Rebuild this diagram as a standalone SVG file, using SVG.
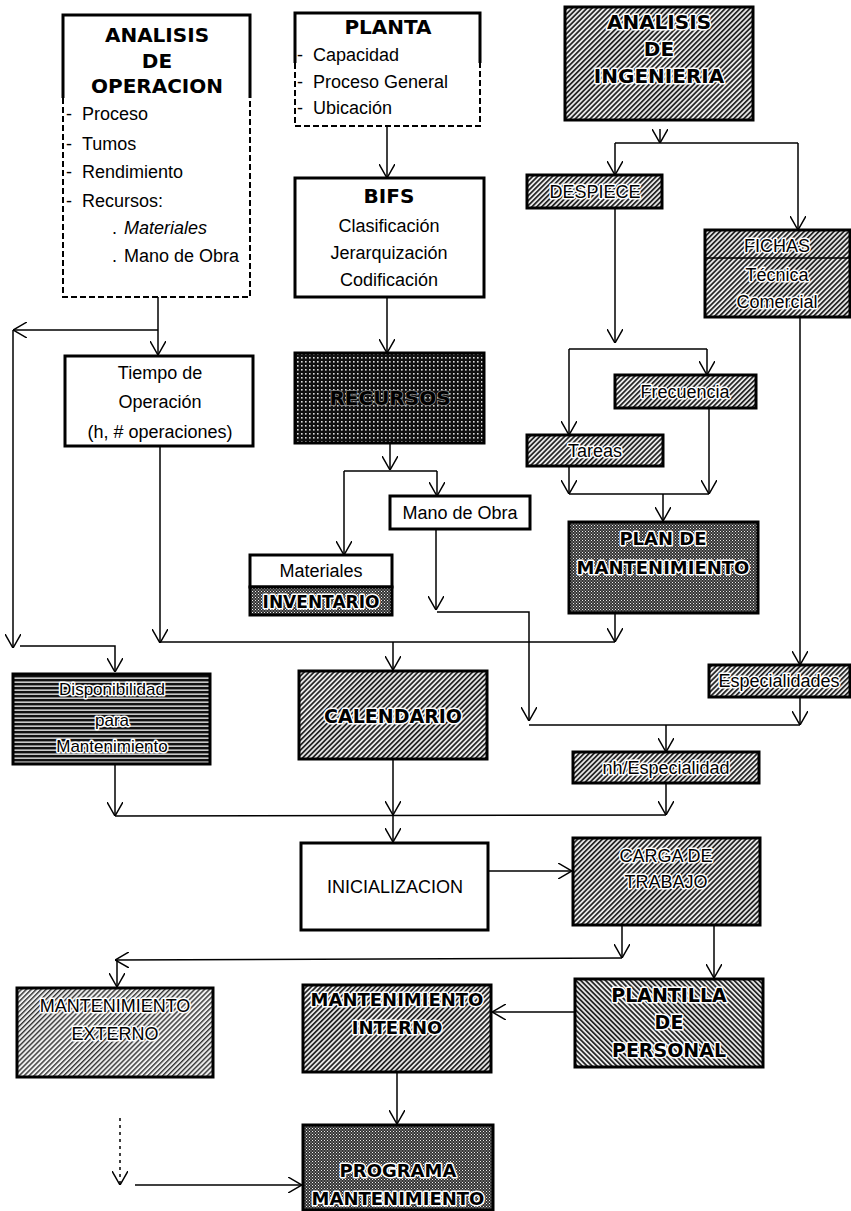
<svg xmlns="http://www.w3.org/2000/svg" width="851" height="1211" viewBox="0 0 851 1211">
<style>
.box{stroke:#000;stroke-width:3}
.wb{fill:#fff;stroke:#000;stroke-width:3}
.t{font-family:"Liberation Sans",Arial,sans-serif;font-size:18px;fill:#000}
.h{font-family:"DejaVu Sans",Verdana,sans-serif;font-weight:bold;font-size:20px;fill:#000}
.c{text-anchor:middle}
.halo{paint-order:stroke;stroke:#fff;stroke-width:3px;stroke-linejoin:round}
.conn{stroke:#000;stroke-width:1.5;fill:none}
.dash{stroke:#000;stroke-width:2;fill:none;stroke-dasharray:6 3}
.solid{stroke:#000;stroke-width:3;fill:none}
</style>
<defs>
<pattern id="hatch" patternUnits="userSpaceOnUse" width="3.5" height="3.5" patternTransform="rotate(45)">
<rect width="3.5" height="3.5" fill="#e8e8e8"/><rect width="1.7" height="3.5" fill="#222"/>
</pattern>
<pattern id="hatchL" patternUnits="userSpaceOnUse" width="3.5" height="3.5" patternTransform="rotate(45)">
<rect width="3.5" height="3.5" fill="#f0f0f0"/><rect width="1.4" height="3.5" fill="#333"/>
</pattern>
<pattern id="hatchB" patternUnits="userSpaceOnUse" width="3.5" height="3.5" patternTransform="rotate(-45)">
<rect width="3.5" height="3.5" fill="#e8e8e8"/><rect width="1.7" height="3.5" fill="#222"/>
</pattern>
<pattern id="grid" patternUnits="userSpaceOnUse" width="4" height="4">
<rect width="4" height="4" fill="#111"/><rect x="1" y="1" width="1.6" height="1.6" fill="#ddd"/>
</pattern>
<pattern id="dots" patternUnits="userSpaceOnUse" width="3" height="3">
<rect width="3" height="3" fill="#333"/><rect x="0" y="0" width="1" height="1" fill="#eee"/><rect x="1.5" y="1.5" width="1" height="1" fill="#ccc"/>
</pattern>
<pattern id="hlines" patternUnits="userSpaceOnUse" width="4" height="4">
<rect width="4" height="4" fill="#111"/><rect y="1.5" width="4" height="1.3" fill="#f4f4f4"/>
</pattern>
<marker id="arr" viewBox="0 0 14 16" refX="14" refY="8" markerWidth="14" markerHeight="16" markerUnits="userSpaceOnUse" orient="auto">
<path d="M0,0 L14,8 L0,16" fill="none" stroke="#000" stroke-width="1.5"/>
</marker>
</defs>
<rect width="851" height="1211" fill="#fff"/>

<g id="connectors">
<path class="conn" d="M387,126 L387,178" marker-end="url(#arr)"/>
<path class="conn" d="M387,297 L387,353" marker-end="url(#arr)"/>
<path class="conn" d="M390,443 L390,470" marker-end="url(#arr)"/>
<path class="conn" d="M344,471 L437,471"/>
<path class="conn" d="M344,471 L344,555" marker-end="url(#arr)"/>
<path class="conn" d="M437,471 L437,496" marker-end="url(#arr)"/>
<path class="conn" d="M158,297 L158,355" marker-end="url(#arr)"/>
<path class="conn" d="M158,330 L13,330" marker-end="url(#arr)"/>
<path class="conn" d="M13,330 L13,648" marker-end="url(#arr)"/>
<path class="conn" d="M20,646 L115,646 L115,672" marker-end="url(#arr)"/>
<path class="conn" d="M160,446 L160,643" marker-end="url(#arr)"/>
<path class="conn" d="M160,642 L615,642"/>
<path class="conn" d="M615,613 L615,642" marker-end="url(#arr)"/>
<path class="conn" d="M393,642 L393,670" marker-end="url(#arr)"/>
<path class="conn" d="M436,529 L436,610" marker-end="url(#arr)"/>
<path class="conn" d="M437,612 L529,612 L529,721" marker-end="url(#arr)"/>
<path class="conn" d="M529,725 L800,725"/>
<path class="conn" d="M800,697 L800,725" marker-end="url(#arr)"/>
<path class="conn" d="M666,725 L666,752" marker-end="url(#arr)"/>
<path class="conn" d="M800,317 L800,665" marker-end="url(#arr)"/>
<path class="conn" d="M660,129 L660,143" marker-end="url(#arr)"/>
<path class="conn" d="M615,143 L798,143"/>
<path class="conn" d="M615,143 L615,175" marker-end="url(#arr)"/>
<path class="conn" d="M798,143 L798,230" marker-end="url(#arr)"/>
<path class="conn" d="M615,208 L615,343" marker-end="url(#arr)"/>
<path class="conn" d="M569,349 L707,349"/>
<path class="conn" d="M569,349 L569,435" marker-end="url(#arr)"/>
<path class="conn" d="M707,349 L707,375" marker-end="url(#arr)"/>
<path class="conn" d="M569,466 L569,494" marker-end="url(#arr)"/>
<path class="conn" d="M709,408 L709,494" marker-end="url(#arr)"/>
<path class="conn" d="M569,494 L709,494"/>
<path class="conn" d="M663,494 L663,521" marker-end="url(#arr)"/>
<path class="conn" d="M115,764 L115,816" marker-end="url(#arr)"/>
<path class="conn" d="M115,816 L666,815"/>
<path class="conn" d="M666,783 L666,815" marker-end="url(#arr)"/>
<path class="conn" d="M393,759 L393,815" marker-end="url(#arr)"/>
<path class="conn" d="M393,815 L393,842" marker-end="url(#arr)"/>
<path class="conn" d="M488,871 L572,871" marker-end="url(#arr)"/>
<path class="conn" d="M622,925 L622,958" marker-end="url(#arr)"/>
<path class="conn" d="M622,958 L115,960" marker-end="url(#arr)"/>
<path class="conn" d="M117,960 L117,987" marker-end="url(#arr)"/>
<path class="conn" d="M714,925 L714,978" marker-end="url(#arr)"/>
<path class="conn" d="M575,1012 L492,1012" marker-end="url(#arr)"/>
<path class="conn" d="M397,1072 L397,1124" marker-end="url(#arr)"/>
<path class="conn" d="M120,1118 L120,1185" stroke-dasharray="3 4" marker-end="url(#arr)"/>
<path class="conn" d="M135,1185 L302,1185" marker-end="url(#arr)"/>
</g>

<g id="analisis-operacion">
<rect x="63" y="15" width="187" height="282" fill="#fff"/>
<path class="solid" d="M63,98 L63,15 L250,15 L250,98"/>
<path class="dash" d="M63,98 L63,297 L250,297 L250,98"/>
<text class="h c" x="157" y="42">ANALISIS</text>
<text class="h c" x="157" y="68">DE</text>
<text class="h c" x="157" y="93">OPERACION</text>
<text class="t" y="120"><tspan x="66">-</tspan><tspan x="82">Proceso</tspan></text>
<text class="t" y="150"><tspan x="66">-</tspan><tspan x="82">Tumos</tspan></text>
<text class="t" y="178"><tspan x="66">-</tspan><tspan x="82">Rendimiento</tspan></text>
<text class="t" y="207"><tspan x="66">-</tspan><tspan x="82">Recursos:</tspan></text>
<text class="t" y="234"><tspan x="112">.</tspan><tspan x="124" font-style="italic">Materiales</tspan></text>
<text class="t" y="262"><tspan x="112">.</tspan><tspan x="124">Mano de Obra</tspan></text>
</g>

<g id="planta">
<rect x="295" y="13" width="185" height="113" fill="#fff"/>
<path class="solid" d="M295,63 L295,13 L480,13 L480,63"/>
<path class="dash" d="M295,63 L295,126 L480,126 L480,63"/>
<text class="h c" x="388" y="34">PLANTA</text>
<text class="t" y="61"><tspan x="297">-</tspan><tspan x="313">Capacidad</tspan></text>
<text class="t" y="88"><tspan x="297">-</tspan><tspan x="313">Proceso General</tspan></text>
<text class="t" y="114"><tspan x="297">-</tspan><tspan x="313">Ubicación</tspan></text>
</g>

<g id="bifs">
<rect class="wb" x="295" y="178" width="189" height="119"/>
<text class="h c" x="389" y="203">BIFS</text>
<text class="t c" x="389" y="232">Clasificación</text>
<text class="t c" x="389" y="259">Jerarquización</text>
<text class="t c" x="389" y="286">Codificación</text>
</g>

<g id="analisis-ingenieria">
<rect class="box" x="565" y="7" width="188" height="113" fill="url(#hatch)"/>
<text class="h c halo" x="659" y="29">ANALISIS</text>
<text class="h c halo" x="659" y="56">DE</text>
<text class="h c halo" x="659" y="83">INGENIERIA</text>
</g>

<g id="despiece">
<rect class="box" x="527" y="175" width="135" height="33" fill="url(#hatch)"/>
<text class="t c halo" x="595" y="198">DESPIECE</text>
</g>

<g id="fichas">
<rect class="box" x="705" y="230" width="145" height="87" fill="url(#hatch)"/>
<line x1="705" y1="258" x2="850" y2="258" stroke="#000" stroke-width="1.5"/>
<text class="t c halo" x="777" y="252">FICHAS</text>
<text class="t c halo" x="777" y="281">Técnica</text>
<text class="t c halo" x="777" y="308">Comercial</text>
</g>

<g id="tiempo-operacion">
<rect class="wb" x="65" y="356" width="188" height="90"/>
<text class="t c" x="160" y="379">Tiempo de</text>
<text class="t c" x="160" y="408">Operación</text>
<text class="t c" x="160" y="438">(h, # operaciones)</text>
</g>

<g id="recursos">
<rect class="box" x="295" y="353" width="189" height="90" fill="url(#grid)"/>
<text class="h c" x="390" y="405" style="paint-order:stroke;stroke:#888;stroke-width:1.5px">RECURSOS</text>
</g>

<g id="frecuencia">
<rect class="box" x="615" y="375" width="141" height="33" fill="url(#hatch)"/>
<text class="t c halo" x="685" y="398">Frecuencia</text>
</g>

<g id="tareas">
<rect class="box" x="527" y="435" width="136" height="31" fill="url(#hatch)"/>
<text class="t c halo" x="595" y="457">Tareas</text>
</g>

<g id="mano-de-obra">
<rect class="wb" x="390" y="496" width="140" height="33"/>
<text class="t c" x="460" y="519">Mano de Obra</text>
</g>

<g id="plan-mantenimiento">
<rect class="box" x="569" y="522" width="189" height="91" fill="url(#dots)"/>
<text class="h c halo" x="663" y="545" style="font-size:18px">PLAN DE</text>
<text class="h c halo" x="663" y="574" style="font-size:18px">MANTENIMIENTO</text>
</g>

<g id="materiales-inventario">
<rect class="wb" x="250" y="555" width="142" height="32"/>
<text class="t c" x="321" y="577">Materiales</text>
<rect class="box" x="250" y="587" width="142" height="28" fill="url(#dots)"/>
<text class="h c halo" x="321" y="608" style="font-size:17px">INVENTARIO</text>
</g>

<g id="especialidades">
<rect class="box" x="709" y="665" width="141" height="32" fill="url(#hatch)"/>
<text class="t c halo" x="779" y="687">Especialidades</text>
</g>

<g id="disponibilidad">
<rect class="box" x="13" y="674" width="197" height="90" fill="url(#hlines)"/>
<text class="t c halo" x="112" y="695" style="font-size:17px">Disponibilidad</text>
<text class="t c halo" x="112" y="726" style="font-size:17px">para</text>
<text class="t c halo" x="112" y="752" style="font-size:17px">Mantenimiento</text>
</g>

<g id="calendario">
<rect class="box" x="299" y="671" width="188" height="88" fill="url(#hatch)"/>
<text class="h c halo" x="393" y="723" style="font-size:19px">CALENDARIO</text>
</g>

<g id="nh-especialidad">
<rect class="box" x="573" y="752" width="186" height="31" fill="url(#hatch)"/>
<text class="t c halo" x="666" y="774">nh/Especialidad</text>
</g>

<g id="inicializacion">
<rect class="wb" x="301" y="843" width="187" height="87"/>
<text class="t c" x="395" y="893">INICIALIZACION</text>
</g>

<g id="carga-trabajo">
<rect class="box" x="573" y="838" width="187" height="87" fill="url(#hatch)"/>
<text class="t c halo" x="666" y="862">CARGA DE</text>
<text class="t c halo" x="666" y="888">TRABAJO</text>
</g>

<g id="mantenimiento-externo">
<rect class="box" x="17" y="988" width="196" height="89" fill="url(#hatchL)"/>
<text class="t c halo" x="115" y="1012">MANTENIMIENTO</text>
<text class="t c halo" x="115" y="1040">EXTERNO</text>
</g>

<g id="mantenimiento-interno">
<rect class="box" x="303" y="985" width="188" height="87" fill="url(#hatch)"/>
<text class="h c halo" x="397" y="1006" style="font-size:18px">MANTENIMIENTO</text>
<text class="h c halo" x="397" y="1034" style="font-size:18px">INTERNO</text>
</g>

<g id="plantilla-personal">
<rect class="box" x="575" y="979" width="188" height="88" fill="url(#hatchB)"/>
<text class="h c halo" x="669" y="1002" style="font-size:19px">PLANTILLA</text>
<text class="h c halo" x="669" y="1029" style="font-size:19px">DE</text>
<text class="h c halo" x="669" y="1057" style="font-size:19px">PERSONAL</text>
</g>

<g id="programa-mantenimiento">
<rect class="box" x="303" y="1125" width="190" height="85" fill="url(#dots)"/>
<text class="h c halo" x="398" y="1177" style="font-size:18px">PROGRAMA</text>
<text class="h c halo" x="398" y="1205" style="font-size:18px">MANTENIMIENTO</text>
</g>
</svg>
